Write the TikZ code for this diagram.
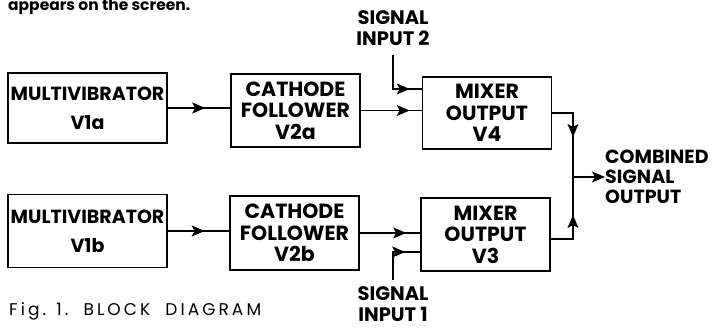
\documentclass[tikz,border=0pt]{standalone}
\usepackage{fontspec}
\setmainfont{Poppins}
\usetikzlibrary{arrows.meta,decorations.markings}
\tikzset{
  block/.style={draw, line width=1.6pt, minimum width=#1, minimum height=72pt, inner sep=0pt,
    align=center, font=\bfseries\fontsize{20.5}{21.5}\selectfont},
  block/.default=129pt,
  tag/.style={inner sep=0pt, align=center, font=\bfseries\fontsize{19.5}{21}\selectfont},
  wire/.style={line width=1.5pt},
  tip/.style={-{Stealth[length=13pt,width=11pt,inset=3pt]}},
  flow/.style={wire, decoration={markings, mark=at position #1 with {\arrow{Stealth[length=13pt,width=11pt,inset=3pt]}}},
    postaction={decorate}},
}

\begin{document}
\begin{tikzpicture}[x=1pt,y=-1pt]
  \useasboundingbox (0,0) rectangle (712,328);

  % line of text above the figure
  \node[anchor=base west, inner sep=0pt, font=\bfseries\fontsize{15.5}{18}\selectfont] (txt) at (8,11) {appears on the screen.};

  % top chain
  \node[block=159pt, minimum height=70pt, font=\bfseries\fontsize{19}{29}\selectfont] (mv1) at (87.5,108) {MULTIVIBRATOR\\V1a};
  \node[block, minimum height=73pt] (cf1) at (295.5,110.5) {CATHODE\\FOLLOWER\\V2a};
  \node[block] (mx4) at (487,113) {MIXER\\OUTPUT\\V4};

  % bottom chain
  \node[block=159pt, minimum height=73pt, font=\bfseries\fontsize{19}{29}\selectfont] (mv2) at (87.5,231) {MULTIVIBRATOR\\V1b};
  \node[block, minimum height=74pt] (cf2) at (294.5,233) {CATHODE\\FOLLOWER\\V2b};
  \node[block, minimum height=73pt] (mx3) at (485.5,234.5) {MIXER\\OUTPUT\\V3};

  % signal inputs and output
  \node[tag] (in2) at (393,28) {SIGNAL\\INPUT 2};
  \node[tag] (in1) at (393,304) {SIGNAL\\INPUT 1};
  \node[tag, anchor=west, align=left, font=\bfseries\fontsize{19}{20}\selectfont] (out) at (605,177) {COMBINED\\SIGNAL\\OUTPUT};
  \coordinate (jn) at (573,177);

  % connections
  \draw[flow=0.6] (mv1.east) -- (mv1.east -| cf1.west);
  \draw[flow=-12pt] (cf1.east) -- (cf1.east -| mx4.west);
  \draw[flow=-12pt] ([yshift=-9pt]in2.south) |- ([yshift=24pt]mx4.west);
  \draw[flow=0.6] (mv2.east) -- (mv2.east -| cf2.west);
  \draw[flow=-14pt] (cf2.east) -- (cf2.east -| mx3.west);
  \draw[flow=-15pt] ([yshift=6pt]in1.north) |- ([yshift=-17.5pt]mx3.west);
  \draw[flow=-40pt] (mx4.east) -| (jn);
  \draw[flow=-38pt] ([yshift=-4.5pt]mx3.east) -| (jn);
  \draw[wire, tip] (jn) -- (out.west);

  % caption
  \node[anchor=west, inner sep=0pt, font=\fontsize{17}{19}\selectfont\addfontfeatures{LetterSpace=18}] (cap) at (9,311) {Fig. 1.\ \ BLOCK\ \ DIAGRAM};
\end{tikzpicture}
\end{document}
